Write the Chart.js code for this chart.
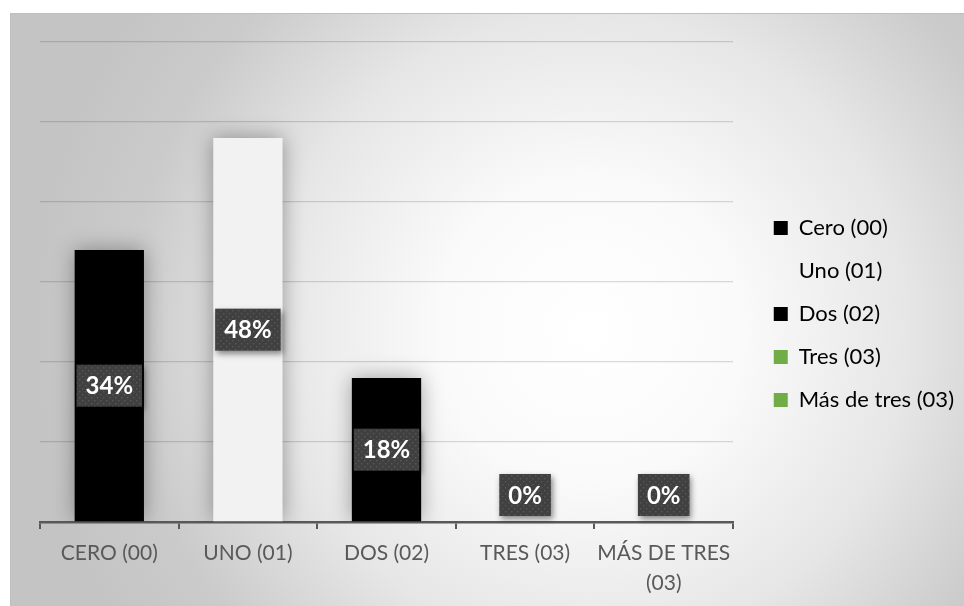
<!DOCTYPE html>
<html>
<head>
<meta charset="utf-8">
<script src="https://cdn.jsdelivr.net/npm/chart.js@4.4.0/dist/chart.umd.min.js"></script>
<style>
  html, body { margin: 0; padding: 0; background: #fff; }
  canvas { display: block; }
</style>
</head>
<body>
<canvas id="chart" width="964" height="606"></canvas>
<script>
// data
const categories = ['CERO (00)', 'UNO (01)', 'DOS (02)', 'TRES (03)', ['MÁS DE TRES', '(03)']];
const legendLabels = ['Cero (00)', 'Uno (01)', 'Dos (02)', 'Tres (03)', 'Más de tres (03)'];
const percentages = [34, 48, 18, 0, 0];
const barColors = ['#000000', '#f2f2f2', '#000000', '#70ad47', '#70ad47'];
const yMax = 60;
const yStep = 10;

const FONT = 'Lato';
Chart.defaults.font.family = FONT;

// dotted fill for the label boxes
const dots = document.createElement('canvas');
dots.width = 6; dots.height = 6;
const dctx = dots.getContext('2d');
dctx.fillStyle = 'rgba(255,255,255,0.13)';
dctx.fillRect(1, 1, 1.4, 1.4);
dctx.fillRect(4, 4, 1.4, 1.4);

const background = {
    id: 'background',
    beforeDraw(chart) {
        const ctx = chart.ctx;
        ctx.save();
        ctx.fillStyle = '#fff';
        ctx.fillRect(0, 0, chart.width, chart.height);
        const g = ctx.createRadialGradient(590, 330, 0, 590, 330, 560);
        g.addColorStop(0, '#ffffff');
        g.addColorStop(0.27, '#fafafa');
        g.addColorStop(0.57, '#e6e6e6');
        g.addColorStop(0.82, '#cbcbcb');
        g.addColorStop(1, '#c4c4c4');
        ctx.fillStyle = g;
        ctx.fillRect(10, 13, 954, 593);
        ctx.strokeStyle = '#bfbfbf';
        ctx.lineWidth = 1;
        ctx.strokeRect(10.5, 13.5, 960, 600);
        ctx.restore();
    }
};

// soft halo round the bars
const barShadow = {
    id: 'barShadow',
    beforeDatasetDraw(chart) {
        const ctx = chart.ctx;
        ctx.save();
        ctx.shadowColor = 'rgba(0,0,0,0.35)';
        ctx.shadowBlur = 20;
    },
    afterDatasetDraw(chart) {
        chart.ctx.restore();
    }
};

// dark boxed percentage labels
const boxLabels = {
    id: 'boxLabels',
    afterDatasetsDraw(chart) {
        const ctx = chart.ctx;
        const pattern = ctx.createPattern(dots, 'repeat');
        const meta = chart.getDatasetMeta(0);
        ctx.save();
        ctx.font = 'bold 24px ' + FONT;
        ctx.textAlign = 'center';
        ctx.textBaseline = 'middle';
        meta.data.forEach((bar, i) => {
            const text = percentages[i] + '%';
            const w = ctx.measureText(text).width + 18;
            const h = 42;
            let cy = (bar.y + bar.base) / 2;
            cy = Math.min(cy, bar.base - 6 - h / 2);
            const x0 = bar.x - w / 2, y0 = cy - h / 2;
            ctx.save();
            ctx.shadowColor = 'rgba(0,0,0,0.45)';
            ctx.shadowBlur = 6;
            ctx.shadowOffsetX = 2;
            ctx.shadowOffsetY = 3;
            ctx.fillStyle = '#404040';
            ctx.fillRect(x0, y0, w, h);
            ctx.restore();
            ctx.fillStyle = pattern;
            ctx.fillRect(x0, y0, w, h);
            ctx.fillStyle = '#ffffff';
            ctx.fillText(text, bar.x, cy + 1);
        });
        ctx.restore();
    }
};

new Chart(document.getElementById('chart'), {
    type: 'bar',
    data: {
        labels: categories,
        datasets: [{
            data: percentages,
            backgroundColor: barColors,
            barPercentage: 0.5,
            categoryPercentage: 1
        }]
    },
    options: {
        responsive: false,
        animation: false,
        devicePixelRatio: 1,
        layout: { padding: { left: 40, top: 22, right: 0, bottom: 0 } },
        plugins: {
            tooltip: { enabled: false },
            legend: {
                position: 'right',
                align: 'center',
                maxWidth: 212,
                labels: {
                    color: '#404040',
                    font: { size: 22 },
                    boxWidth: 14,
                    boxHeight: 14,
                    padding: 21,
                    generateLabels: () => legendLabels.map((t, i) => ({
                        text: t,
                        fillStyle: barColors[i] === '#f2f2f2' ? 'rgba(0,0,0,0)' : barColors[i],
                        strokeStyle: 'rgba(0,0,0,0)',
                        lineWidth: 0,
                        index: i
                    }))
                }
            }
        },
        scales: {
            x: {
                grid: { drawOnChartArea: false, drawTicks: true, tickLength: 7, color: '#595959', lineWidth: 2 },
                border: { color: '#595959', width: 2.5 },
                ticks: { color: '#595959', font: { size: 21, lineHeight: 1.43 }, padding: 9, maxRotation: 0 },
                afterFit: s => { s.height = 84; }
            },
            y: {
                min: 0,
                max: yMax,
                ticks: { display: false, stepSize: yStep },
                grid: { color: 'rgba(0,0,0,0.14)', lineWidth: 1.3, drawTicks: false },
                border: { display: false },
                afterFit: s => { s.width = 0; }
            },
            gapTop: {
                type: 'linear',
                position: 'top',
                grid: { display: false },
                ticks: { display: false },
                border: { display: false },
                afterFit: s => { s.height = 20; }
            },
            gap: {
                type: 'linear',
                position: 'right',
                grid: { display: false },
                ticks: { display: false },
                border: { display: false },
                afterFit: s => { s.width = s.chart.width - s.chart.legend.width - 733; }
            }
        }
    },
    plugins: [background, barShadow, boxLabels]
});
</script>
</body>
</html>
